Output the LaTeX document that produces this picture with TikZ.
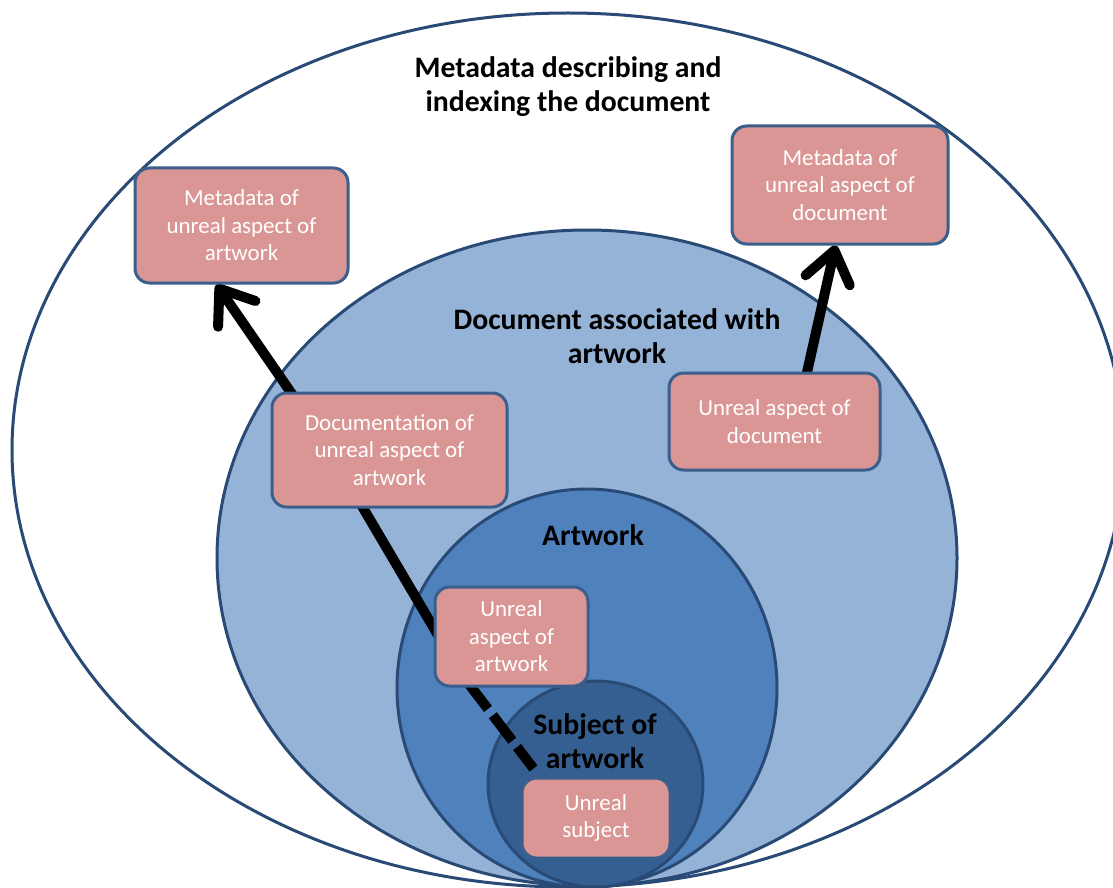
\documentclass[tikz,border=0pt]{standalone}
\usepackage{fontspec}
\setmainfont{Carlito}
\usetikzlibrary{arrows.meta,calc}
\definecolor{zoneedge}{HTML}{2A4A76}
\definecolor{boxedge}{HTML}{3A5F8C}
\definecolor{docfill}{HTML}{95B3D7}
\definecolor{artfill}{HTML}{4F81BD}
\definecolor{subjfill}{HTML}{365F91}
\definecolor{boxfill}{HTML}{D99694}
\pgfdeclarelayer{bottomlayer}
\pgfdeclarelayer{midlayer}
\pgfsetlayers{bottomlayer,midlayer,main}
\begin{document}
\begin{tikzpicture}[x=0.75pt,y=-0.75pt,
  zone/.style={draw=zoneedge, line width=2.25pt},
  ubox/.style={draw=boxedge, fill=boxfill, line width=2.25pt, rounded corners=11pt, text=white, align=center, inner sep=0pt, font=\fontsize{17.2}{20.6}\selectfont},
  lbl/.style={align=center, font=\bfseries\fontsize{22.3}{25.5}\selectfont, text=black},
  link/.style={line width=7.5pt, black},
  tipped/.style={-{Straight Barb[length=23pt,width=34pt,round]}}
]
\useasboundingbox (0,0) rectangle (1113,888);
\begin{pgfonlayer}{bottomlayer}
\clip (0,0) rectangle (1113,888);
\fill[white] (0,0) rectangle (1113,888);
\draw[zone, fill=white] (568,450) ellipse [x radius=556, y radius=437];
\draw[zone, fill=docfill] (587,558) ellipse [x radius=370, y radius=328];
\draw[zone, fill=artfill] (587,688) ellipse [x radius=190, y radius=199];
\draw[zone, fill=subjfill] (595.5,784) ellipse [x radius=107.5, y radius=103];
\node[lbl] (title) at (568,87) {Metadata describing and\\indexing the document};
\node[lbl] (doclbl) at (617,336) {Document associated with\\artwork};
\node[lbl] (artlbl) at (593,535) {Artwork};
\node[lbl] (subjlbl) at (595,741) {Subject of\\artwork};
\end{pgfonlayer}

\node[ubox, minimum width=159.75pt, minimum height=86.25pt] (metaart) at (241.5,225.5) {Metadata of\\unreal aspect of\\artwork};
\node[ubox, minimum width=176.25pt, minimum height=85.5pt] (docart) at (389.5,450) {Documentation of\\unreal aspect of\\artwork};
\node[ubox, minimum width=162pt, minimum height=88.5pt] (metadoc) at (840,185) {Metadata of\\unreal aspect of\\document};
\node[ubox, minimum width=158.25pt, minimum height=72.75pt] (unrealdoc) at (774.5,421.5) {Unreal aspect of\\document};
\node[ubox, minimum width=114.75pt, minimum height=74.25pt] (unrealart) at (511.5,636.5) {Unreal\\aspect of\\artwork};
\node[ubox, minimum width=111pt, minimum height=60pt] (unrealsubj) at (596,818) {Unreal\\subject};

\begin{pgfonlayer}{midlayer}
\draw[link] ($(unrealart.west)+(5,-0.5)$) -- ($(docart.south west)+(87,-10)$);
\draw[link, tipped] ($(docart.north west)+(28,12)$) -- ($(metaart.south west)+(83,0)$);
\draw[link, tipped] ($(unrealdoc.north west)+(137,12)$) -- ($(metadoc.south west)+(105,0)$);
\draw[link, dash pattern=on 24pt off 6pt] ($(unrealart.south west)+(35,-4)$) -- ($(unrealsubj.north west)+(13,-8)$);
\end{pgfonlayer}
\end{tikzpicture}
\end{document}
